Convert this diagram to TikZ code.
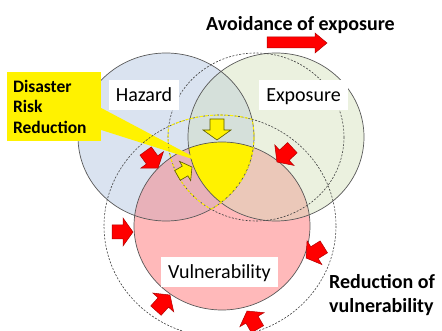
\documentclass[tikz,border=0pt]{standalone}
\usepackage{fontspec}
\setmainfont{Carlito}

\definecolor{hazardfill}{HTML}{DAE3F0}
\definecolor{exposurefill}{HTML}{EBF1DF}
\definecolor{vulnfill}{HTML}{FFB9BA}
\definecolor{hzexfill}{HTML}{D5E0DA}
\definecolor{hzvufill}{HTML}{E8B1B9}
\definecolor{exvufill}{HTML}{EBC8B9}
\definecolor{ringline}{HTML}{595959}
\definecolor{dashline}{HTML}{404040}
\definecolor{arrowred}{HTML}{FF0000}
\definecolor{arrowedge}{HTML}{B00000}
\definecolor{yellowedge}{HTML}{5A5A00}

\tikzset{
  ring/.style={draw=ringline, line width=0.7pt},
  oldring/.style={draw=dashline, line width=0.6pt, dash pattern=on 2pt off 1.5pt},
  drrline/.style={draw=yellow, line width=1pt, dash pattern=on 3pt off 2pt},
  redarrow/.style={fill=arrowred, draw=arrowedge, line width=0.5pt},
  yellowarrow/.style={fill=yellow, draw=yellowedge, line width=0.6pt},
  tag/.style={fill=white, inner xsep=7pt, inner ysep=0pt, minimum height=30pt,
    text height=13pt, text depth=0pt, font=\fontsize{20}{24}\selectfont},
  heading/.style={font=\bfseries\fontsize{20}{24}\selectfont, inner sep=0pt}
}

% style, tip, angle, scale
\newcommand{\blockarrow}[4]{%
  \draw[#1, shift={(#2)}, rotate=#3, scale=#4]
    (0,0) -- (-10,14) -- (-10,7) -- (-21,7) -- (-21,-7) -- (-10,-7) -- (-10,-14) -- cycle;}

\begin{document}
\begin{tikzpicture}[x=1pt, y=-1pt]
  \useasboundingbox (0,0) rectangle (442,331);

  \coordinate (hz) at (166,137);
  \coordinate (ex) at (276,137);
  \coordinate (vu) at (222,226);
  \coordinate (exold) at (256,137);
  \coordinate (vuold) at (220,226);

  % circles
  \fill[hazardfill] (hz) ellipse [x radius=88, y radius=84];
  \fill[exposurefill] (ex) ellipse [x radius=88, y radius=84];
  \fill[vulnfill] (vu) ellipse [x radius=88, y radius=84];
  \begin{scope}
    \clip (ex) ellipse [x radius=88, y radius=84];
    \fill[exvufill] (vu) ellipse [x radius=88, y radius=84];
  \end{scope}
  \begin{scope}
    \clip (hz) ellipse [x radius=88, y radius=84];
    \fill[hzexfill] (ex) ellipse [x radius=88, y radius=84];
    \fill[hzvufill] (vu) ellipse [x radius=88, y radius=84];
    \clip (ex) ellipse [x radius=88, y radius=84];
    \fill[yellow] (vu) ellipse [x radius=88, y radius=84];
  \end{scope}
  \draw[ring] (hz) ellipse [x radius=88, y radius=84];
  \draw[ring] (ex) ellipse [x radius=88, y radius=84];
  \draw[ring] (vu) ellipse [x radius=88, y radius=84];

  % callout
  \node[fill=yellow, minimum width=94pt, minimum height=69pt, text width=82pt,
    inner xsep=6pt, align=left, font=\bfseries\fontsize{17.5}{20.5}\selectfont]
    (drr) at (54,106.5) {Disaster\\Risk\\Reduction};
  \coordinate (drrtip) at (205,163);
  \fill[yellow] ([yshift=-1.5pt]drr.east) -- (drrtip) -- ([yshift=-23.5pt]drr.east) -- cycle;

  % before
  \draw[oldring] (exold) ellipse [x radius=88, y radius=84];
  \draw[oldring] (vuold) ellipse [x radius=116, y radius=111];
  \begin{scope}
    \clip (exold) ellipse [x radius=88, y radius=84];
    \clip (vuold) ellipse [x radius=116, y radius=111];
    \draw[drrline] (hz) ellipse [x radius=88, y radius=84];
  \end{scope}
  \begin{scope}
    \clip (hz) ellipse [x radius=88, y radius=84];
    \clip (vuold) ellipse [x radius=116, y radius=111];
    \draw[drrline] (exold) ellipse [x radius=88, y radius=84];
  \end{scope}
  \begin{scope}
    \clip (hz) ellipse [x radius=88, y radius=84];
    \clip (exold) ellipse [x radius=88, y radius=84];
    \draw[drrline] (vuold) ellipse [x radius=116, y radius=111];
  \end{scope}

  % arrows
  \blockarrow{redarrow}{158,168}{-54}{1}
  \blockarrow{redarrow}{277,162}{223}{1}
  \blockarrow{redarrow}{133,232}{0}{1}
  \blockarrow{redarrow}{170,295}{48}{1}
  \blockarrow{redarrow}{247,311}{120}{1}
  \blockarrow{redarrow}{306,258}{212}{1}
  \blockarrow{yellowarrow}{217,140}{-90}{1}
  \blockarrow{yellowarrow}{192,167}{30}{0.8}
  \draw[redarrow] (267,37) -- (315,37) -- (315,33) -- (327,43) -- (315,53) -- (315,48) -- (267,48) -- cycle;

  % labels
  \node[tag] (hazard) at (144,95) {Hazard};
  \node[tag] (exposure) at (303.5,95) {Exposure};
  \node[tag] (vulnerability) at (219.5,272.5) {Vulnerability};
  \node[heading, anchor=base west] (avoid) at (206,31) {Avoidance of exposure};
  \node[heading, anchor=west, align=left] (reduce) at (329,295) {Reduction of\\vulnerability};
\end{tikzpicture}
\end{document}
